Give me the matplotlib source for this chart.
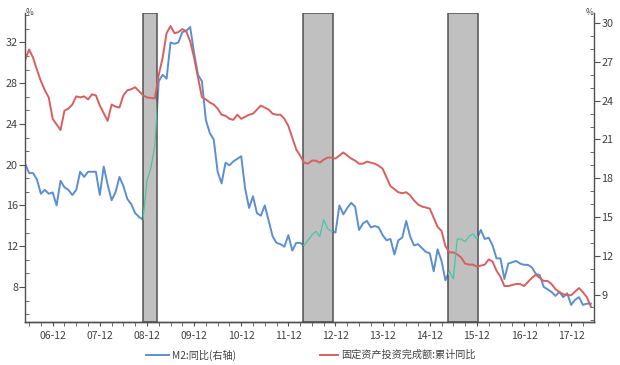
import matplotlib
matplotlib.use("Agg")
import matplotlib.pyplot as plt
import numpy as np
from matplotlib.lines import Line2D

plt.rcParams['font.family'] = ['Noto Sans CJK SC', 'DejaVu Sans']

# mois : 0 = 2006-01, donnees de 2006-05 a 2018-05
first_month = 4

# M2 : glissement annuel (axe droit)
m2 = [19.1, 18.4, 18.4, 17.9, 16.8, 17.1, 16.8, 16.9,
      15.9, 17.8, 17.3, 17.1, 16.7, 17.1, 18.5, 18.1, 18.5, 18.5, 18.5, 16.7,
      18.9, 17.5, 16.3, 16.9, 18.1, 17.4, 16.4, 16.0, 15.3, 15.0, 14.8, 17.8,
      18.8, 20.5, 25.5, 26.0, 25.7, 28.5, 28.4, 28.5, 29.3, 29.4, 29.7, 27.7,
      26.0, 25.5, 22.5, 21.5, 21.0, 18.5, 17.6, 19.2, 19.0, 19.3, 19.5, 19.7,
      17.2, 15.7, 16.6, 15.3, 15.1, 15.9, 14.7, 13.5, 13.0, 12.9, 12.7, 13.6,
      12.4, 13.0, 13.0, 12.8, 13.2, 13.6, 13.9, 13.5, 14.8, 14.1, 13.9, 13.8,
      15.9, 15.2, 15.7, 16.1, 15.8, 14.0, 14.5, 14.7, 14.2, 14.3, 14.2, 13.6,
      13.2, 13.3, 12.1, 13.2, 13.4, 14.7, 13.5, 12.8, 12.9, 12.6, 12.3, 12.2,
      10.8, 12.5, 11.6, 10.1, 10.8, 10.2, 13.3, 13.3, 13.1, 13.5, 13.7, 13.3,
      14.0, 13.3, 13.4, 12.8, 11.8, 11.8, 10.2, 11.4, 11.5, 11.6, 11.4, 11.3,
      11.3, 11.1, 10.6, 10.5, 9.6, 9.4, 9.2, 8.9, 9.2, 8.8, 9.1, 8.2,
      8.6, 8.8, 8.2, 8.3, 8.3]

# Investissement en actifs fixes : cumul annuel (axe gauche), pas de janvier
fai = [30.3, 31.3, 30.5, 29.3, 28.2, 27.3, 26.6, 24.5,
       None, 23.4, 25.3, 25.5, 25.9, 26.7, 26.6, 26.7, 26.4, 26.9, 26.8, 25.8,
       None, 24.3, 25.9, 25.7, 25.6, 26.8, 27.3, 27.4, 27.6, 27.2, 26.8, 26.6,
       None, 26.5, 28.8, 30.5, 32.9, 33.6, 32.9, 33.0, 33.3, 33.1, 32.1, 30.5,
       None, 26.6, 26.4, 26.1, 25.9, 25.5, 24.9, 24.8, 24.5, 24.4, 24.9, 24.5,
       None, 24.9, 25.0, 25.4, 25.8, 25.6, 25.4, 25.0, 24.9, 24.9, 24.5, 23.8,
       None, 21.5, 20.9, 20.2, 20.1, 20.4, 20.4, 20.2, 20.5, 20.7, 20.7, 20.6,
       None, 21.2, 20.9, 20.6, 20.4, 20.1, 20.1, 20.3, 20.2, 20.1, 19.9, 19.6,
       None, 17.9, 17.6, 17.3, 17.2, 17.3, 17.0, 16.5, 16.1, 15.9, 15.8, 15.7,
       None, 13.9, 13.5, 12.0, 11.4, 11.4, 11.2, 10.9, 10.3, 10.2, 10.2, 10.0,
       None, 10.2, 10.7, 10.5, 9.6, 9.0, 8.1, 8.1, 8.2, 8.3, 8.3, 8.1,
       None, 8.9, 9.2, 8.9, 8.6, 8.6, 8.3, 7.8, 7.5, 7.3, 7.2, 7.2,
       None, 7.9, 7.5, 7.0, 6.1]

# periodes grisees (en mois)
shade_start = [34.1, 74.8, 111.7]
shade_end = [37.6, 82.3, 119.4]

xtick_labels = ['06-12', '07-12', '08-12', '09-12', '10-12', '11-12',
                '12-12', '13-12', '14-12', '15-12', '16-12', '17-12']

months = np.arange(first_month, first_month + len(m2))
fai_x = [m for m, v in zip(months, fai) if v is not None]
fai_y = [v for v in fai if v is not None]

blue = '#5b8fd0'
red = '#d95f5f'
teal = '#4cc4a4'
grey_txt = '#404040'

fig = plt.figure(figsize=(6.2, 3.65), dpi=100)
ax = fig.add_axes([0.0403, 0.1186, 0.9183, 0.8464])
ax2 = ax.twinx()   # M2 + zones grisees (dessous)
ax3 = ax.twinx()   # M2 en vert (dessus)

ax2.set_zorder(1)
ax.set_zorder(2)
ax3.set_zorder(3)
for a in (ax, ax2, ax3):
    a.patch.set_visible(False)

# M2 en bleu puis zones grisees par-dessus
ax2.plot(months, m2, color=blue, lw=1.4, zorder=1)
for s, e in zip(shade_start, shade_end):
    ax2.add_patch(plt.Rectangle((s, 0), e - s, 1, transform=ax2.get_xaxis_transform(),
                                facecolor='#c0c0c0', edgecolor='#505050',
                                lw=1.1, zorder=2))

# investissement, axe gauche
ax.plot(fai_x, fai_y, color=red, lw=1.4)

# M2 en vert dans les zones grisees
for s, e in zip(shade_start, shade_end):
    sel = (months >= np.floor(s)) & (months <= np.ceil(e))
    l, = ax3.plot(months[sel], np.array(m2)[sel], color=teal, lw=0.9)
    clip = plt.Rectangle((s, 0), e - s, 1, transform=ax3.get_xaxis_transform())
    l.set_clip_path(clip)

ax.set_xlim(3.95, 148.9)
ax.set_ylim(4.6, 34.9)
ax2.set_ylim(6.9, 30.8)
ax3.set_ylim(6.9, 30.8)

ax.set_xticks([11 + 12 * i for i in range(len(xtick_labels))])
ax.set_xticklabels(xtick_labels)
ax.set_xticks(np.arange(5, 149, 3), minor=True)
ax.set_yticks(np.arange(8, 33, 4))
ax.set_yticks(np.arange(4 + 4 / 3, 34.9, 4 / 3), minor=True)
ax2.set_yticks(np.arange(9, 31, 3))
ax2.set_yticks(np.arange(7, 31, 1), minor=True)

for a in (ax, ax2):
    a.spines['top'].set_visible(False)
    for sp in a.spines.values():
        sp.set_color('#505050')
        sp.set_linewidth(1.0)
    a.tick_params(axis='y', which='major', direction='out', length=4,
                  color='#505050', labelsize=7.8, labelcolor=grey_txt, pad=1)
    a.tick_params(axis='y', which='minor', direction='in', length=3,
                  color='#505050')
ax.tick_params(axis='x', which='both', direction='out', length=3,
               color='#505050', labelsize=7.5, labelcolor=grey_txt, pad=4)
ax2.spines['left'].set_visible(False)
ax.spines['right'].set_visible(False)
ax3.axis('off')

fig.text(0.047, 0.965, '%', fontsize=6, color=grey_txt, ha='center', va='center')
fig.text(0.951, 0.965, '%', fontsize=6, color=grey_txt, ha='center', va='center')

fig.legend([Line2D([], [], color=blue, lw=1.4)], ['M2:同比(右轴)'],
           loc='center left', bbox_to_anchor=(0.236, 0.027), frameon=False,
           fontsize=7.3, handlelength=2.2, handletextpad=0.3,
           borderaxespad=0, borderpad=0, labelcolor=grey_txt)
fig.legend([Line2D([], [], color=red, lw=1.4)], ['固定资产投资完成额:累计同比'],
           loc='center left', bbox_to_anchor=(0.516, 0.027), frameon=False,
           fontsize=7.3, handlelength=1.8, handletextpad=0.3,
           borderaxespad=0, borderpad=0, labelcolor=grey_txt)

fig.savefig('out.png', dpi=100)
